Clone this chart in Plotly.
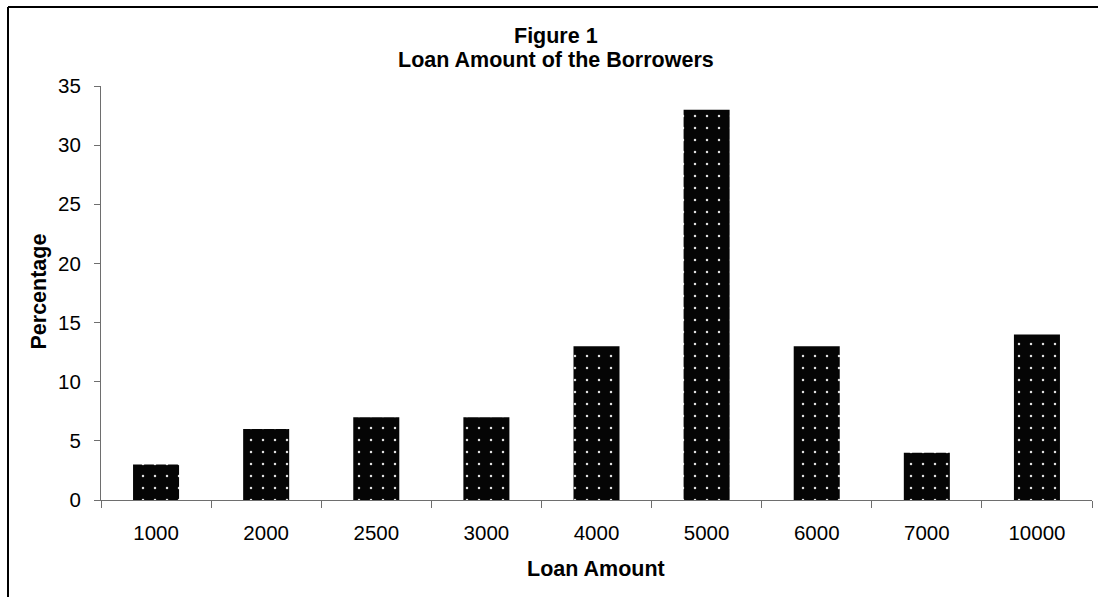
import plotly.graph_objects as go

categories = ["1000", "2000", "2500", "3000", "4000", "5000", "6000", "7000", "10000"]
percentages = [3, 6, 7, 7, 13, 33, 13, 4, 14]
y_ticks = [0, 5, 10, 15, 20, 25, 30, 35]

W, H = 1098, 597
L, R, T, B = 101, 6, 86, 97
pw = W - L - R
ph = H - T - B


def px_x(p):
    return (p - L) / pw


def px_y(p):
    return (H - B - p) / ph


FONT = "Liberation Sans, Arial"
AXIS = "#6e6e6e"

fig = go.Figure(go.Bar(
    x=categories, y=percentages,
    marker=dict(
        color="#050505",
        line=dict(width=0),
        pattern=dict(shape=".", bgcolor="#050505", fgcolor="#e0e0e0", size=12, solidity=0.035, fillmode="replace"),
    ),
))

fig.update_layout(
    width=W, height=H,
    margin=dict(l=L, r=R, t=T, b=B),
    paper_bgcolor="white", plot_bgcolor="white",
    bargap=0.582,
    showlegend=False,
    font=dict(family=FONT, color="black", size=20.5),
    xaxis=dict(
        type="category", showline=True, linecolor=AXIS, linewidth=1,
        ticks="outside", tickson="boundaries", ticklen=7, tickcolor=AXIS, tickwidth=1,
        tickfont=dict(size=20.5), showgrid=False, ticklabelstandoff=14,
    ),
    yaxis=dict(
        range=[0, 35], tickvals=y_ticks, showline=True, linecolor=AXIS, linewidth=1,
        ticks="outside", ticklen=6, tickcolor=AXIS, tickwidth=1,
        tickfont=dict(size=20.5), showgrid=False, zeroline=False, ticklabelstandoff=9,
    ),
    annotations=[
        dict(text="<b>Figure 1</b>", xref="paper", yref="paper", x=px_x(556), y=px_y(36.5),
             xanchor="center", yanchor="middle", showarrow=False, font=dict(size=21.5)),
        dict(text="<b>Loan Amount of the Borrowers</b>", xref="paper", yref="paper", x=px_x(556), y=px_y(60),
             xanchor="center", yanchor="middle", showarrow=False, font=dict(size=21.5)),
        dict(text="<b>Loan Amount</b>", xref="paper", yref="paper", x=px_x(596), y=px_y(568.5),
             xanchor="center", yanchor="middle", showarrow=False, font=dict(size=21.5)),
        dict(text="<b>Percentage</b>", xref="paper", yref="paper", x=px_x(38), y=px_y(291.5),
             xanchor="center", yanchor="middle", textangle=-90, showarrow=False, font=dict(size=21.5)),
    ],
    shapes=[
        dict(type="line", xref="paper", yref="paper",
             x0=px_x(8), x1=px_x(8), y0=px_y(7), y1=px_y(H),
             line=dict(color="black", width=2), layer="above"),
        dict(type="line", xref="paper", yref="paper",
             x0=px_x(8), x1=px_x(W), y0=px_y(7), y1=px_y(7),
             line=dict(color="black", width=2), layer="above"),
    ],
)

fig.write_html("out.html")
